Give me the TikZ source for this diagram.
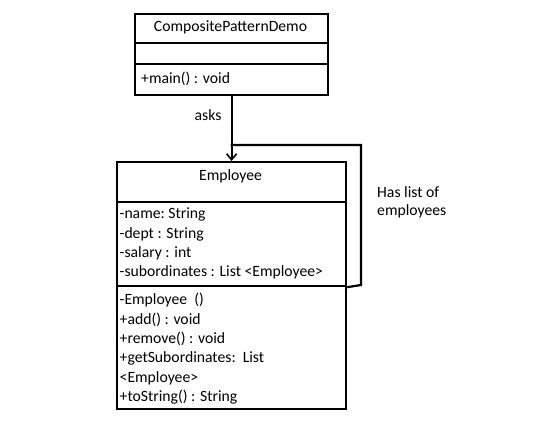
\documentclass[tikz,border=0pt]{standalone}
\usepackage{fontspec}
\setmainfont{Carlito}
\usetikzlibrary{arrows.meta}
\begin{document}
\begin{tikzpicture}[x=1pt,y=-1pt,
  box/.style={draw, line width=2.2pt, anchor=north west, inner sep=0pt},
  txt/.style={anchor=west, inner sep=0pt, font=\fontsize{15.7}{18}\selectfont},
  ctxt/.style={inner sep=0pt, font=\fontsize{15.7}{18}\selectfont},
  conn/.style={line width=2.2pt, line join=miter}]
\useasboundingbox (0,0) rectangle (537,427);
% CompositePatternDemo
\node[box, minimum width=193pt, minimum height=29pt] (demoname) at (134,13) {};
\node[box, minimum width=193pt, minimum height=21pt] (demoattr) at (134,42) {};
\node[box, minimum width=193pt, minimum height=31pt] (demoops) at (134,63) {};
\node[ctxt] (demotitle) at (230.5,27) {CompositePatternDemo};
\node[txt] (demom1) at (141,79) {+main() : void};
% Employee
\node[box, minimum width=229pt, minimum height=40pt] (empname) at (116,161) {};
\node[box, minimum width=229pt, minimum height=84pt] (empattr) at (116,201) {};
\node[box, minimum width=229pt, minimum height=123pt] (empops) at (116,285) {};
\node[ctxt] (emptitle) at (230.5,176) {Employee};
\node[txt] (a1) at (119.5,214) {-name:\ String};
\node[txt] (a2) at (119.5,234) {-dept : String};
\node[txt] (a3) at (119.5,253) {-salary : int};
\node[txt] (a4) at (119.5,272) {-subordinates : List <Employee>};
\node[txt] (m1) at (119.5,300) {-Employee\ \ ()};
\node[txt] (m2) at (119.5,320) {+add() : void};
\node[txt] (m3) at (119.5,339) {+remove() : void};
\node[txt] (m4) at (119.5,358) {+getSubordinates:\ \ List};
\node[txt] (m5) at (119.5,378) {<Employee>};
\node[txt] (m6) at (119.5,397) {+toString() : String};
% connectors
\draw[conn, -{Straight Barb[length=6pt,width=10pt,line width=1.6pt]}] (demoops.south) -- (empname.north);
\node[ctxt] (asks) at (208,115) {asks};
\coordinate (join) at (230.5,145);
\coordinate (loopbot) at (361,285);
\draw[conn] (empattr.south east) -- (loopbot) |- (join);
\node[txt] (has1) at (377,192) {Has list of};
\node[txt] (has2) at (377,211) {employees};
\end{tikzpicture}
\end{document}
